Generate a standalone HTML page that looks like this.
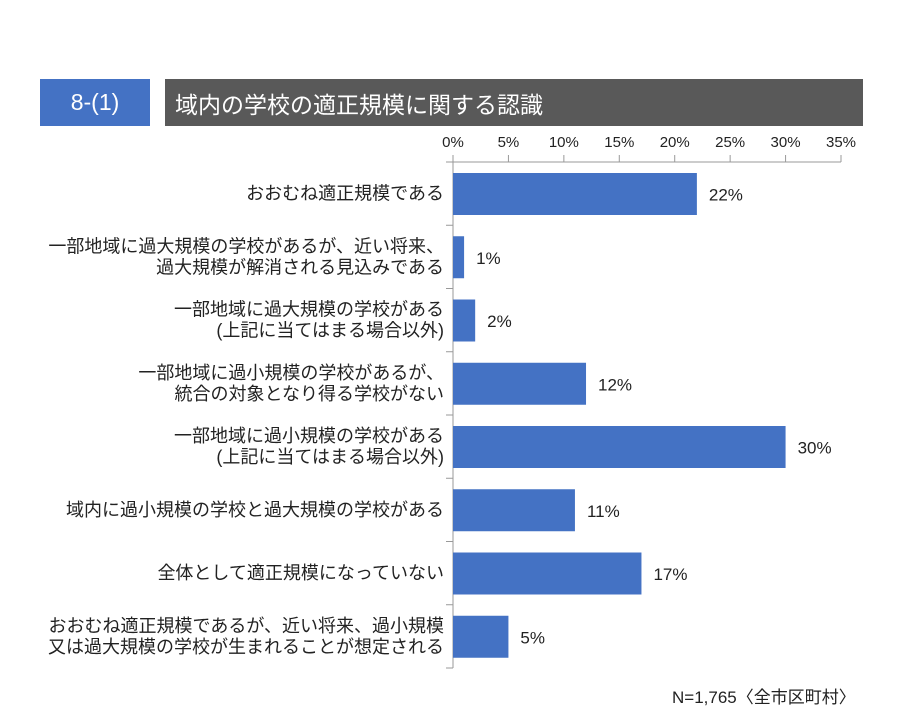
<!DOCTYPE html>
<html><head><meta charset="utf-8"><style>
body{margin:0;width:904px;height:720px;background:#fff;overflow:hidden;font-family:"Liberation Sans","Noto Sans CJK JP",sans-serif;position:relative}
.hb{position:absolute;top:79px;height:47px;color:#fff;display:flex;align-items:center}
</style></head><body>
<div class="hb" style="left:40px;width:110px;background:#4472c4;justify-content:center;font-size:23px">8-(1)</div>
<div class="hb" style="left:165px;width:698px;background:#595959;font-size:23px;padding-left:10px;box-sizing:border-box">域内の学校の適正規模に関する認識</div>
<svg id="c" width="904" height="720" style="position:absolute;left:0;top:0"></svg>
<div style="position:absolute;left:672px;top:683px;font-size:17px;color:#222">N=1,765〈全市区町村〉</div>
<script>
const categories=[["おおむね適正規模である"],["一部地域に過大規模の学校があるが、近い将来、","過大規模が解消される見込みである"],["一部地域に過大規模の学校がある","(上記に当てはまる場合以外)"],["一部地域に過小規模の学校があるが、","統合の対象となり得る学校がない"],["一部地域に過小規模の学校がある","(上記に当てはまる場合以外)"],["域内に過小規模の学校と過大規模の学校がある"],["全体として適正規模になっていない"],["おおむね適正規模であるが、近い将来、過小規模","又は過大規模の学校が生まれることが想定される"]];
const values=[22,1,2,12,30,11,17,5];
const ticks=[0,5,10,15,20,25,30,35];
const svg=document.getElementById('c');const NS='http://www.w3.org/2000/svg';
const x0=453,x1=841,y0=162,y1=668,rowH=(y1-y0)/values.length;
const xs=v=>x0+(v/35)*(x1-x0);
function mk(t,a,p){const e=document.createElementNS(NS,t);for(const k in a)e.setAttribute(k,a[k]);(p||svg).appendChild(e);return e;}
let e=mk('line',{x1:x0,y1:y0,x2:x1,y2:y0,stroke:'#999'});


e=mk('line',{x1:x0,y1:y0,x2:x0,y2:y1,stroke:'#999'});


ticks.forEach(t=>{const x=xs(t);
mk('line',{x1:x,y1:y0-7,x2:x,y2:y0,stroke:'#999'});
const tx=mk('text',{x:x,y:147,'text-anchor':'middle','font-size':15,fill:'#222'});tx.textContent=t+'%';

});
for(let i=0;i<=values.length;i++){const y=y0+i*rowH;mk('line',{x1:x0-7,y1:y,x2:x0,y2:y,stroke:'#999'});}
values.forEach((v,i)=>{const top=y0+i*rowH+11,cy=y0+(i+0.5)*rowH;
const r=mk('rect',{x:x0,y:top,width:xs(v)-x0,height:42,fill:'#4472c4'});


const l=mk('text',{x:xs(v)+12,y:cy+7,'font-size':17,fill:'#222'});l.textContent=v+'%';


const lines=categories[i];const g=mk('text',{x:444,'text-anchor':'end','font-size':18,fill:'#222'});


lines.forEach((s,j)=>{const ts=mk('tspan',{x:444,y:cy+6+(j-(lines.length-1)/2)*21},g);ts.textContent=s;});});
</script>
</body></html>
